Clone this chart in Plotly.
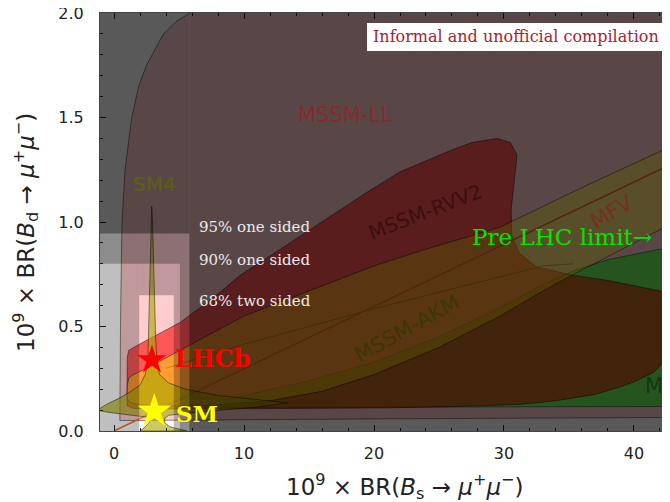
import plotly.graph_objects as go

# ---------------- data ----------------
X_RANGE = [-1.077, 42.77]
Y_RANGE = [0.0, 2.0]

X_TICKS = [0, 10, 20, 30, 40]
Y_TICKS = [0.0, 0.5, 1.0, 1.5, 2.0]
Y_TICK_TEXT = ["0.0", "0.5", "1.0", "1.5", "2.0"]

# MSSM-LL region
LL_X = [0.45, 0.46, 0.50, 0.55, 0.62, 0.85, 1.36, 1.9, 2.5, 3.8, 4.8, 5.85, 8.0, 47.0, 47.0, 20.0, 0.45]
LL_Y = [0.05, 0.30, 0.50, 0.75, 1.00, 1.25, 1.50, 1.65, 1.75, 1.90, 1.96, 2.00, 2.10, 2.10, 0.066, 0.058, 0.05]

# MSSM-AC (green) region
GREEN_X = [7.0, 20.0, 47.0, 47.0, 42.8, 38.0, 35.3, 33.0, 30.0, 25.0, 20.0, 15.0, 10.0, 7.5, 7.0]
GREEN_Y = [0.112, 0.113, 0.118, 0.95, 0.88, 0.82, 0.765, 0.70, 0.60, 0.45, 0.33, 0.24, 0.17, 0.13, 0.112]

# MSSM-RVV2 region
RVV2_X = [1.0, 0.98, 1.02, 1.12, 1.5, 3.0, 5.1, 7.5, 9.7, 12.8, 16.0, 19.4, 22.0, 25.8, 27.5, 29.5, 30.5,
          31.0, 30.8, 30.55, 30.6, 31.2, 32.5, 35.3, 38.0, 42.8, 47.0, 47.0, 44.0, 42.8, 42.3, 41.5, 40.0,
          38.9, 37.0, 34.0, 31.2, 25.0, 20.0, 13.0, 5.0, 1.5, 1.0]
RVV2_Y = [0.12, 0.30, 0.35, 0.385, 0.40, 0.45, 0.52, 0.63, 0.745, 0.87, 1.00, 1.14, 1.24, 1.34, 1.38, 1.40, 1.38,
          1.32, 1.20, 1.06, 0.93, 0.85, 0.785, 0.745, 0.72, 0.66, 0.60, 0.55, 0.50, 0.40, 0.33, 0.28, 0.235,
          0.21, 0.175, 0.145, 0.127, 0.115, 0.11, 0.106, 0.105, 0.108, 0.12]

# MSSM-AKM + MFV (yellow) band
YEL_X = [1.0, 1.02, 1.15, 1.5, 2.5, 4.7, 7.0, 10.0, 13.9, 17.0, 20.0, 24.0, 27.0, 29.7, 33.0, 36.0, 40.0, 42.8, 47.0,
         47.0, 42.8, 41.1, 38.0, 35.5, 33.0, 29.7, 25.0, 20.0, 16.0, 12.0, 8.0, 4.0, 2.0, 1.3, 1.05, 1.0]
YEL_Y = [0.17, 0.22, 0.255, 0.27, 0.30, 0.375, 0.45, 0.55, 0.645, 0.72, 0.79, 0.87, 0.925, 0.975, 1.075, 1.165, 1.28, 1.357, 1.48,
         1.12, 0.99, 0.935, 0.835, 0.755, 0.67, 0.55, 0.40, 0.27, 0.19, 0.145, 0.125, 0.12, 0.125, 0.135, 0.15, 0.17]

# faint AKM upper edge
AKM_EDGE_X = [4.0, 9.7, 19.7, 29.7, 33.0, 35.3]
AKM_EDGE_Y = [0.30, 0.41, 0.58, 0.74, 0.79, 0.80]

# MFV central line
MFV_LINE_X = [0.0, 47.0]
MFV_LINE_Y = [0.0, 1.40]

# SM4 region
SM4_X = [2.9, 2.97, 3.05, 3.12, 3.2, 3.3, 3.5, 4.2, 5.5, 8.0, 11.0, 13.4, 11.0, 8.0, 5.5, 4.2, 3.9, 3.9, 4.3, 5.6,
         2.0, 2.4, 2.7, 2.7, 1.5, 0.5, -0.5, -1.3, -0.5, 0.5, 1.2, 2.0, 2.4, 2.6, 2.65, 2.72, 2.8, 2.85, 2.9]
SM4_Y = [1.075, 1.0, 0.8, 0.6, 0.45, 0.33, 0.27, 0.23, 0.20, 0.17, 0.15, 0.135, 0.115, 0.10, 0.085, 0.075, 0.06, 0.04, 0.02, 0.0,
         0.0, 0.02, 0.04, 0.065, 0.075, 0.08, 0.09, 0.10, 0.13, 0.16, 0.185, 0.22, 0.27, 0.33, 0.45, 0.6, 0.8, 1.0, 1.075]

# measurements
LHCB_PT = (2.92, 0.34)
SM_PT = (3.1, 0.095)

# confidence boxes (upper limits)
BOX95 = (5.8, 0.945)
BOX90 = (5.07, 0.80)
BOX68 = (1.94, 4.6, 0.65)

# ---------------- figure ----------------
fig = go.Figure()
EDGE = "rgba(0,0,0,0.45)"


def poly(xs, ys, fill, line=EDGE):
    fig.add_trace(go.Scatter(x=xs, y=ys, mode="lines", fill="toself", fillcolor=fill,
                             line=dict(color=line, width=1), hoverinfo="skip", showlegend=False))


poly(LL_X, LL_Y, "rgb(255,205,208)")
poly(GREEN_X, GREEN_Y, "rgb(109,240,90)")
poly(RVV2_X, RVV2_Y, "rgba(255,0,0,0.58)")
poly(YEL_X, YEL_Y, "rgba(255,255,0,0.42)")
fig.add_trace(go.Scatter(x=AKM_EDGE_X, y=AKM_EDGE_Y, mode="lines", line=dict(color="rgba(120,110,0,0.5)", width=1),
                         hoverinfo="skip", showlegend=False))
fig.add_trace(go.Scatter(x=MFV_LINE_X, y=MFV_LINE_Y, mode="lines", line=dict(color="rgb(240,110,50)", width=1.5),
                         hoverinfo="skip", showlegend=False))
poly(SM4_X, SM4_Y, "rgba(170,170,0,0.62)")

fig.add_trace(go.Scatter(x=[LHCB_PT[0]], y=[LHCB_PT[1]], mode="markers",
                         marker=dict(symbol="star", size=22, color="rgb(255,0,0)", line=dict(width=0)),
                         hoverinfo="skip", showlegend=False))
fig.add_trace(go.Scatter(x=[SM_PT[0]], y=[SM_PT[1]], mode="markers",
                         marker=dict(symbol="star", size=26, color="rgb(255,255,0)", line=dict(width=0)),
                         hoverinfo="skip", showlegend=False))

# darkening overlays outside the confidence boxes
BIGX0, BIGX1, BIGY0, BIGY1 = -5, 60, -1, 3
shapes = []


def dark(x0, x1, y0, y1, a):
    shapes.append(dict(type="rect", xref="x", yref="y", x0=x0, x1=x1, y0=y0, y1=y1,
                       fillcolor=f"rgba(0,0,0,{a})", line=dict(width=0), layer="above"))


# outside 68%
dark(BOX68[1], BIGX1, BIGY0, BIGY1, 0.25)
dark(BIGX0, BOX68[0], BIGY0, BIGY1, 0.25)
dark(BOX68[0], BOX68[1], BOX68[2], BIGY1, 0.25)
# outside 90%
dark(BOX90[0], BIGX1, BIGY0, BIGY1, 0.267)
dark(BIGX0, BOX90[0], BOX90[1], BIGY1, 0.267)
# outside 95%
dark(BOX95[0], BIGX1, BIGY0, BIGY1, 0.364)
dark(BIGX0, BOX95[0], BOX95[1], BIGY1, 0.364)

# helpers: window pixel -> paper coordinates (plot area spans x 100..670, y 13..431 in the window)
def px(xw):
    return (xw - 100) / 570


def py(yw):
    return (431 - yw) / 418


# white info box
shapes.append(dict(type="rect", xref="paper", yref="paper",
                   x0=px(367), x1=px(666), y0=py(51), y1=py(23),
                   fillcolor="white", line=dict(width=0), layer="above"))
fig.update_layout(shapes=shapes)

SERIF = "DejaVu Serif"
SANS = "DejaVu Sans"
ann = []


def txt(x, y, t, size, color, family=SANS, angle=0, xanchor="center", bold=False):
    if bold:
        t = "<b>" + t + "</b>"
    ann.append(dict(x=x, y=y, xref="x", yref="y", text=t, showarrow=False, textangle=angle,
                    xanchor=xanchor, yanchor="middle", font=dict(family=family, size=size, color=color)))


txt(17.77, 1.514, "MSSM-LL", 21, "rgb(135,42,45)")
txt(3.08, 1.18, "SM4", 20, "rgb(95,95,15)")
txt(23.9, 1.05, "MSSM-RVV2", 20, "rgb(60,15,15)", angle=-21)
txt(22.5, 0.486, "MSSM-AKM", 21, "rgb(60,55,5)", angle=-29)
txt(38.3, 1.05, "MFV", 21, "rgb(115,50,30)", angle=-30)
txt(40.7, 0.213, "MS", 21, "rgb(20,55,20)", xanchor="left")
txt(6.38, 0.978, "95% one sided", 15, "rgb(235,235,235)", family=SERIF, xanchor="left")
txt(6.38, 0.816, "90% one sided", 15, "rgb(235,235,235)", family=SERIF, xanchor="left")
txt(6.38, 0.622, "68% two sided", 15, "rgb(235,235,235)", family=SERIF, xanchor="left")
txt(4.54, 0.347, "LHCb", 24, "rgb(255,0,0)", family=SERIF, xanchor="left", bold=True)
txt(4.62, 0.086, "SM", 23, "rgb(255,255,0)", family=SERIF, xanchor="left", bold=True)
txt(27.38, 0.93, "Pre LHC limit→", 23, "rgb(0,230,0)", family=SERIF, xanchor="left")

ann.append(dict(x=px(516), y=py(37), xref="paper", yref="paper", xanchor="center", yanchor="middle",
                text="Informal and unofficial compilation", showarrow=False,
                font=dict(family=SERIF, size=16, color="rgb(165,35,45)")))
# axis titles
ann.append(dict(x=px(405), y=py(486), xref="paper", yref="paper", xanchor="center", yanchor="middle",
                text="10<sup>9</sup> × BR(<i>B</i><sub>s</sub> → <i>μ</i><sup>+</sup><i>μ</i><sup>−</sup>)",
                showarrow=False, font=dict(family=SANS, size=23, color="#222")))
ann.append(dict(x=px(25), y=py(233), xref="paper", yref="paper", textangle=-90, xanchor="center", yanchor="middle",
                text="10<sup>9</sup> × BR(<i>B</i><sub>d</sub> → <i>μ</i><sup>+</sup><i>μ</i><sup>−</sup>)",
                showarrow=False, font=dict(family=SANS, size=23, color="#222")))
fig.update_layout(annotations=ann)

# the page body has an 8px margin, so the figure is 8px smaller and margins shifted accordingly
fig.update_layout(
    width=662, height=494,
    margin=dict(l=92, r=0, t=5, b=71, pad=0),
    paper_bgcolor="white", plot_bgcolor="white",
    showlegend=False,
)
fig.update_xaxes(range=X_RANGE, tickvals=X_TICKS, ticks="inside", ticklen=6, tickcolor="#222",
                 showgrid=False, zeroline=False, showline=True, linecolor="#444", mirror="ticks",
                 automargin=False, ticklabeloverflow="allow",
                 tickfont=dict(family=SANS, size=16, color="#222"), ticklabelstandoff=8,
                 minor=dict(dtick=2, ticks="inside", ticklen=3, tickcolor="#222"))
fig.update_yaxes(range=Y_RANGE, tickvals=Y_TICKS, ticktext=Y_TICK_TEXT, ticks="inside", ticklen=6, tickcolor="#222",
                 showgrid=False, zeroline=False, showline=True, linecolor="#444", mirror="ticks",
                 automargin=False, ticklabeloverflow="allow",
                 tickfont=dict(family=SANS, size=16, color="#222"), ticklabelstandoff=12,
                 minor=dict(dtick=0.1, ticks="inside", ticklen=3, tickcolor="#222"))

fig.write_html("out.html")
